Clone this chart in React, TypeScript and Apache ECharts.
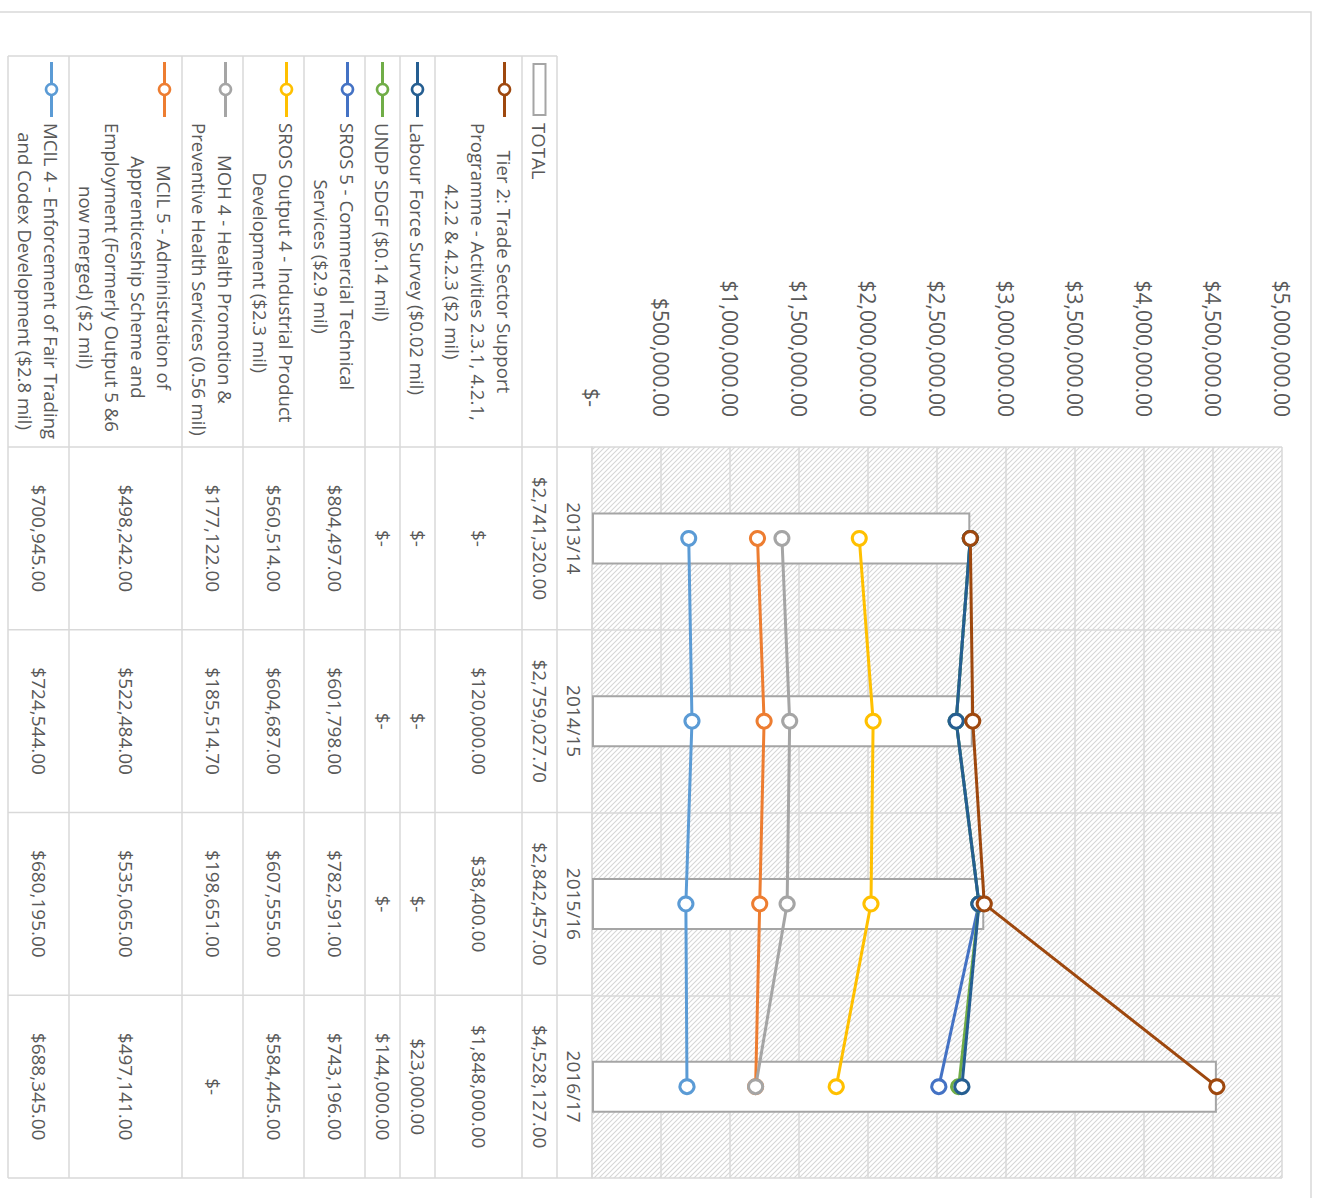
import { useEffect, useRef } from 'react';
import * as echarts from 'echarts';

// Financial years on the category axis
const categories = ['2013/14', '2014/15', '2015/16', '2016/17'];

// Annual amounts (USD)
const totalValues = [2741320, 2759027.7, 2842457, 4528127];
const tier2Values = [0, 120000, 38400, 1848000];
const labourForceValues = [0, 0, 0, 23000];
const undpValues = [0, 0, 0, 144000];
const sros5Values = [804497, 601798, 782591, 743196];
const srosOutput4Values = [560514, 604687, 607555, 584445];
const moh4Values = [177122, 185514.7, 198651, 0];
const mcil5Values = [498242, 522484, 535065, 497141];
const mcil4Values = [700945, 724544, 680195, 688345];

// Value axis range and tick step
const valueMin = 0;
const valueMax = 5000000;
const valueStep = 500000;

// Row captions of the data table, one entry per printed line
const totalLabel = ['TOTAL'];
const tier2Label = [
  'Tier 2: Trade Sector Support',
  'Programme - Activities 2.3.1, 4.2.1,',
  '4.2.2 & 4.2.3 ($2 mil)',
];
const labourForceLabel = ['Labour Force Survey ($0.02 mil)'];
const undpLabel = ['UNDP SDGF ($0.14 mil)'];
const sros5Label = ['SROS 5 - Commercial Technical', 'Services ($2.9 mil)'];
const srosOutput4Label = ['SROS Output 4 - Industrial Product', 'Development ($2.3 mil)'];
const moh4Label = ['MOH 4 - Health Promotion &', 'Preventive Health Services (0.56 mil)'];
const mcil5Label = [
  'MCIL 5 - Administration of',
  'Apprenticeship Scheme and',
  'Employment (Formerly Output 5 &6',
  'now merged) ($2 mil)',
];
const mcil4Label = ['MCIL 4 - Enforcement of Fair Trading', 'and Codex Development ($2.8 mil)'];

// Stacked line series, listed from the bottom of the stack upwards
const stackedSeries = [
  { label: mcil4Label, values: mcil4Values, color: '#5B9BD5' },
  { label: mcil5Label, values: mcil5Values, color: '#ED7D31' },
  { label: moh4Label, values: moh4Values, color: '#A5A5A5' },
  { label: srosOutput4Label, values: srosOutput4Values, color: '#FFC000' },
  { label: sros5Label, values: sros5Values, color: '#4472C4' },
  { label: undpLabel, values: undpValues, color: '#70AD47' },
  { label: labourForceLabel, values: labourForceValues, color: '#255E91' },
  { label: tier2Label, values: tier2Values, color: '#9E480E' },
];

const FONT = "'Open Sans', sans-serif";
const TEXT = '#595959';
const RULE = '#d9d9d9';
const BAR_EDGE = '#a5a5a5';
const NUM_SIZE = 19;
const AXIS_SIZE = 21;
const CAPTION_SIZE = 18.6;
const LINE_H = 26;

// The chart is laid out upright and the page turns it a quarter-turn clockwise
const CHART_W = 1198;
const CHART_H = 1317;
const PAGE_W = 1317;
const PAGE_H = 1198;

const GRID = { left: 447, top: 35, width: 731, height: 690 };
const CAT_ROW_H = 35;
const TABLE_LEFT = 56;
const CAPTION_X = 123;
const KEY_X0 = 62;
const KEY_X1 = 117;

function money(v: number): string {
  if (v === 0) return '$-';
  const [i, d] = v.toFixed(2).split('.');
  return '$' + i.replace(/\B(?=(\d{3})+(?!\d))/g, ',') + '.' + d;
}

function hatchFill() {
  const svg =
    "<svg xmlns='http://www.w3.org/2000/svg' width='5' height='5'>" +
    "<path d='M-1,-1 L6,6 M-1,4 L1,6 M4,-1 L6,1' stroke='#d6d6d6' stroke-width='1.1'/></svg>";
  return {
    image: 'data:image/svg+xml;base64,' + btoa(svg),
    repeat: 'repeat',
    imageWidth: 5,
    imageHeight: 5,
  };
}

function buildGraphic() {
  const ctx = document.createElement('canvas').getContext('2d')!;
  ctx.font = `${CAPTION_SIZE}px 'Open Sans'`;
  const measure = (s: string) => ctx.measureText(s).width;

  const els: any[] = [];
  const gridRight = GRID.left + GRID.width;
  const catTop = GRID.top + GRID.height;
  const band = GRID.width / categories.length;
  const line = (x1: number, y1: number, x2: number, y2: number) =>
    els.push({
      type: 'line',
      silent: true,
      shape: { x1, y1, x2, y2 },
      style: { stroke: RULE, lineWidth: 1.5 },
    });

  // hatched plot background
  els.push({
    type: 'rect',
    silent: true,
    z: -10,
    shape: { x: GRID.left, y: GRID.top, width: GRID.width, height: GRID.height },
    style: { fill: hatchFill() as any },
  });

  // chart area frame
  els.push({
    type: 'rect',
    silent: true,
    shape: { x: 12, y: 6, width: 1400, height: 1400 },
    style: { fill: 'none', stroke: RULE, lineWidth: 1.5 },
  });

  const rows = [
    { label: totalLabel, values: totalValues, color: '', bar: true },
    ...stackedSeries
      .slice()
      .reverse()
      .map((s) => ({ ...s, bar: false })),
  ];

  let y = catTop + CAT_ROW_H;
  const bounds: number[] = [y];
  rows.forEach((row) => {
    const n = row.label.length;
    const h = LINE_H * n + 9;
    const cy = y + h / 2;
    const firstLineY = cy - ((n - 1) * LINE_H) / 2;

    // legend key
    if (row.bar) {
      els.push({
        type: 'rect',
        silent: true,
        shape: { x: 64, y: firstLineY - 6, width: 51, height: 12 },
        style: { fill: '#fff', stroke: BAR_EDGE, lineWidth: 2 },
      });
    } else {
      els.push({
        type: 'line',
        silent: true,
        shape: { x1: KEY_X0, y1: firstLineY, x2: KEY_X1, y2: firstLineY },
        style: { stroke: row.color, lineWidth: 3 },
      });
      els.push({
        type: 'circle',
        silent: true,
        shape: { cx: (KEY_X0 + KEY_X1) / 2, cy: firstLineY, r: 5.5 },
        style: { fill: '#fff', stroke: row.color, lineWidth: 2.5 },
      });
    }

    // caption: lines centred on one another, block starting at CAPTION_X
    const widest = Math.max(...row.label.map(measure));
    els.push({
      type: 'text',
      silent: true,
      x: CAPTION_X + widest / 2,
      y: cy,
      style: {
        text: row.label.join('\n'),
        fill: TEXT,
        fontSize: CAPTION_SIZE,
        fontFamily: FONT,
        lineHeight: LINE_H,
        align: 'center',
        verticalAlign: 'middle',
      },
    });

    // values
    row.values.forEach((v, i) => {
      els.push({
        type: 'text',
        silent: true,
        x: GRID.left + band * (i + 0.5),
        y: cy,
        style: {
          text: money(v),
          fill: TEXT,
          fontSize: NUM_SIZE,
          fontFamily: FONT,
          align: 'center',
          verticalAlign: 'middle',
        },
      });
    });

    y += h;
    bounds.push(y);
  });

  const tableBottom = y;
  // horizontal rules between table rows
  bounds.forEach((b) => line(TABLE_LEFT, b, gridRight, b));
  // caption column left edge
  line(TABLE_LEFT, bounds[0], TABLE_LEFT, tableBottom);
  // column rules under each category (continuing the plot's category lines)
  for (let k = 0; k <= categories.length; k++) {
    const x = GRID.left + band * k;
    line(x, catTop, x, tableBottom);
  }

  return els;
}

export default function App() {
  const ref = useRef<HTMLDivElement>(null);

  useEffect(() => {
    if (!ref.current) return;
    const chart = echarts.init(ref.current, undefined, {
      renderer: 'svg',
      width: CHART_W,
      height: CHART_H,
    });

    chart.setOption({
      animation: false,
      backgroundColor: '#fff',
      textStyle: { fontFamily: FONT },
      grid: { ...GRID, containLabel: false },
      xAxis: {
        type: 'category',
        data: categories,
        boundaryGap: true,
        axisLine: { show: true, lineStyle: { color: RULE, width: 1.5 } },
        axisTick: { show: false },
        axisLabel: {
          margin: 1,
          color: TEXT,
          fontSize: NUM_SIZE,
          fontFamily: FONT,
          lineHeight: CAT_ROW_H,
          interval: 0,
        },
        splitLine: { show: true, interval: 0, lineStyle: { color: RULE, width: 1.5 } },
      },
      yAxis: {
        type: 'value',
        min: valueMin,
        max: valueMax,
        interval: valueStep,
        axisLine: { show: false },
        axisTick: { show: false },
        axisLabel: {
          margin: 30,
          color: TEXT,
          fontSize: AXIS_SIZE,
          fontFamily: FONT,
          formatter: (v: number) => (v === 0 ? '{zero|$-}' : money(v)),
          rich: {
            zero: {
              color: TEXT,
              fontSize: AXIS_SIZE,
              fontFamily: FONT,
              padding: [0, 10, 0, 0],
            },
          },
        },
        splitLine: { show: true, lineStyle: { color: RULE, width: 1.5 } },
      },
      series: [
        {
          type: 'bar',
          name: 'TOTAL',
          data: totalValues,
          barWidth: 52,
          z: 2,
          itemStyle: { color: '#fff', borderColor: BAR_EDGE, borderWidth: 2 },
          emphasis: { disabled: true },
        },
        ...stackedSeries.map((s) => ({
          type: 'line',
          name: s.label.join(' '),
          data: s.values,
          stack: 'budget',
          z: 3,
          symbol: 'circle',
          symbolSize: 14,
          showAllSymbol: true,
          lineStyle: { color: s.color, width: 3 },
          itemStyle: { color: '#fff', borderColor: s.color, borderWidth: 3 },
          emphasis: { disabled: true },
        })),
      ],
      graphic: { elements: buildGraphic() },
    });

    return () => chart.dispose();
  }, []);

  return (
    <div
      style={{
        position: 'fixed',
        left: 0,
        top: 0,
        width: PAGE_W,
        height: PAGE_H,
        overflow: 'hidden',
        background: '#fff',
      }}
    >
      <div
        ref={ref}
        style={{
          position: 'absolute',
          left: 0,
          top: 0,
          width: CHART_W,
          height: CHART_H,
          transformOrigin: '0 0',
          transform: `translate(${PAGE_W}px, 0) rotate(90deg)`,
        }}
      />
    </div>
  );
}
